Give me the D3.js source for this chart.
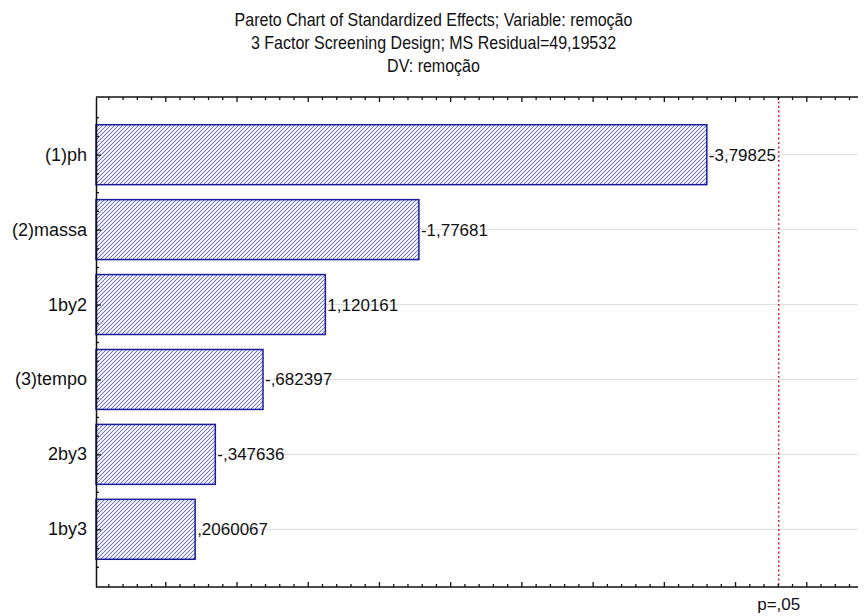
<!DOCTYPE html>
<html>
<head>
<meta charset="utf-8">
<script src="https://cdn.jsdelivr.net/npm/d3@7"></script>
<style>
  html, body { margin: 0; padding: 0; background: #ffffff; overflow: hidden; }
  svg { display: block; overflow: hidden; font-family: "Liberation Sans", Arial, sans-serif; }
</style>
</head>
<body>
<svg id="chart" width="865" height="616"></svg>
<script>
// Standardized effects (t values), sorted by absolute size
const effects = ["(1)ph", "(2)massa", "1by2", "(3)tempo", "2by3", "1by3"];
const tValues = [-3.79825, -1.77681, 1.120161, -0.682397, -0.347636, 0.2060067];
const valueLabels = ["-3,79825", "-1,77681", "1,120161", "-,682397", "-,347636", ",2060067"];
const titleLines = [
  "Pareto Chart of Standardized Effects; Variable: remoção",
  "3 Factor Screening Design; MS Residual=49,19532",
  "DV: remoção"
];
const criticalT = 4.303;      // t(0.975; df=2)
const criticalLabel = "p=,05";
const axisDomain = [-0.49, 5.0];

const W = 865, H = 616;
const plot = { left: 96, right: 878, top: 97, bottom: 587 };
const edge = 858;             // visible right end of the plot frame

const svg = d3.select("#chart");

// hatch fill for the bars
const defs = svg.append("defs");
const pat = defs.append("pattern")
  .attr("id", "hatch").attr("patternUnits", "userSpaceOnUse")
  .attr("width", 4).attr("height", 4);
pat.append("rect").attr("width", 4).attr("height", 4).attr("fill", "#eceefc");
pat.append("path").attr("d", "M-1,1 l2,-2 M0,4 l4,-4 M3,5 l2,-2")
  .attr("stroke", "#5c60c4").attr("stroke-width", 0.9);

const x = d3.scaleLinear().domain(axisDomain).range([plot.left, plot.right]);
const y = d3.scaleBand().domain(effects).range([plot.top, plot.bottom])
  .paddingInner(0.2).paddingOuter(0.37);

// titles (condensed face)
svg.append("g").selectAll("text").data(titleLines).join("text")
  .attr("transform", (d, i) => `translate(${W / 2 + 1},${26 + i * 23}) scale(0.89,1)`)
  .attr("text-anchor", "middle").attr("font-size", 18).attr("fill", "#111")
  .text(d => d);

// horizontal grid lines at each effect
svg.append("g").selectAll("line").data(effects).join("line")
  .attr("x1", plot.left).attr("x2", edge)
  .attr("y1", d => y(d) + y.bandwidth() / 2).attr("y2", d => y(d) + y.bandwidth() / 2)
  .attr("stroke", "#dddddd").attr("stroke-width", 1);

// bars
const bars = effects.map((e, i) => ({ name: e, t: tValues[i], label: valueLabels[i] }));
svg.append("g").selectAll("rect").data(bars).join("rect")
  .attr("x", x(axisDomain[0]))
  .attr("y", d => y(d.name))
  .attr("width", d => x(Math.abs(d.t)) - x(axisDomain[0]))
  .attr("height", y.bandwidth())
  .attr("fill", "url(#hatch)")
  .attr("stroke", "#1a1a9a").attr("stroke-width", 1.5);

// value labels
svg.append("g").selectAll("text").data(bars).join("text")
  .attr("x", d => x(Math.abs(d.t)) + 2)
  .attr("y", d => y(d.name) + y.bandwidth() / 2 + 6)
  .attr("font-size", 17).attr("fill", "#111")
  .text(d => d.label);

// critical value line
svg.append("line")
  .attr("x1", x(criticalT)).attr("x2", x(criticalT))
  .attr("y1", plot.top).attr("y2", plot.bottom)
  .attr("stroke", "#c8283c").attr("stroke-width", 1.5)
  .attr("stroke-dasharray", "2,2.5");
svg.append("text").attr("x", x(criticalT)).attr("y", 610)
  .attr("text-anchor", "middle").attr("font-size", 17).attr("fill", "#111")
  .text(criticalLabel);

// top & bottom axes with inward ticks, no labels
const minorTicks = d3.range(-0.4, axisDomain[1], 0.1).map(v => +v.toFixed(2))
  .filter(v => x(v) < edge);
const isMajor = v => Math.abs(v * 2 - Math.round(v * 2)) < 1e-6;

function styleAxis(g) {
  g.select(".domain").attr("stroke", "#111").attr("stroke-width", 1.5);
  g.selectAll(".tick line").attr("stroke", "#111").attr("stroke-width", 1.3);
}

[plot.top, plot.bottom].forEach(yy => {
  svg.append("line").attr("x1", plot.left).attr("x2", edge).attr("y1", yy).attr("y2", yy)
    .attr("stroke", "#111").attr("stroke-width", 1.5);
});

svg.append("g").selectAll("line").data(minorTicks).join("line")
  .attr("x1", d => x(d)).attr("x2", d => x(d))
  .attr("y1", plot.bottom).attr("y2", d => plot.bottom - (isMajor(d) ? 5 : 3))
  .attr("stroke", "#111").attr("stroke-width", 1.3);
svg.append("g").selectAll("line").data(minorTicks).join("line")
  .attr("x1", d => x(d)).attr("x2", d => x(d))
  .attr("y1", plot.top).attr("y2", d => plot.top + (isMajor(d) ? 5 : 3))
  .attr("stroke", "#111").attr("stroke-width", 1.3);

// left axis: ticks at effect centres and quarter steps
const yPos = [];
effects.forEach(e => {
  const c = y(e) + y.bandwidth() / 2, s = y.step();
  yPos.push({ v: c, major: true }, { v: c - s / 4, major: false }, { v: c + s / 4, major: false }, { v: c + s / 2, major: false });
});
yPos.push({ v: y(effects[0]) + y.bandwidth() / 2 - y.step() / 2, major: false });
const yLin = d3.scaleLinear().domain([plot.top, plot.bottom]).range([plot.top, plot.bottom]);
const leftAxis = d3.axisLeft(yLin).tickValues(yPos.map(d => d.v))
  .tickSizeInner(-4).tickSizeOuter(0).tickFormat("");
svg.append("g").attr("transform", `translate(${plot.left},0)`).call(leftAxis).call(styleAxis)
  .selectAll(".tick line").attr("x2", (d, i) => yPos[i].major ? 5 : 3);

// effect labels
svg.append("g").selectAll("text").data(effects).join("text")
  .attr("x", plot.left - 9)
  .attr("y", d => y(d) + y.bandwidth() / 2 + 6)
  .attr("text-anchor", "end").attr("font-size", 18).attr("fill", "#111")
  .text(d => d);
</script>
</body>
</html>
